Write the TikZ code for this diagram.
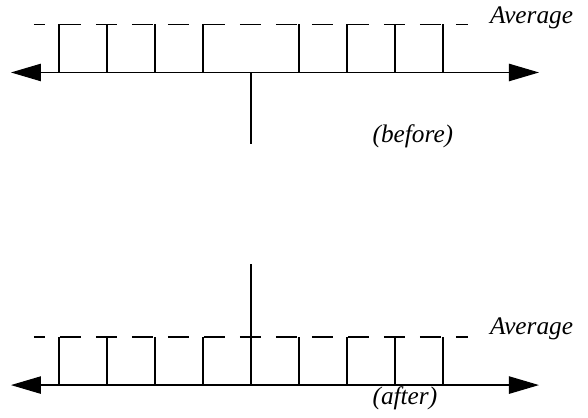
\documentclass[tikz,border=0pt]{standalone}
\usepackage{fontspec}
\setmainfont{Liberation Serif}
\usetikzlibrary{arrows.meta}

\tikzset{
  axis/.style={black, line width=0.55pt, {Triangle[length=0.5cm,width=0.29cm]}-{Triangle[length=0.5cm,width=0.29cm]}},
  avgline/.style={black, line width=0.55pt, dash pattern=on 0.35cm off 0.25cm, dash phase=0.167cm},
  bar/.style={black, line width=0.55pt},
  lbl/.style={font=\fontsize{12}{14}\selectfont\itshape, inner sep=0pt}
}

\begin{document}
\begin{tikzpicture}
    \useasboundingbox (-4.183cm,-5.758cm) rectangle (5.617cm,1.208cm);
    % before
    \draw[axis] (-4cm,0cm) -- (4.8cm,0cm);
    \draw[avgline] (-3.62cm,0.8cm) -- (3.62cm,0.8cm);
    \foreach \x in {-3.2,-2.4,-1.6,-0.8,0.8,1.6,2.4,3.2}
      \draw[bar] (\x cm,0cm) -- (\x cm,0.8cm);
    \draw[bar] (0cm,0cm) -- (0cm,-1.2cm);
    \node[lbl, anchor=base west] (avgbefore) at (3.98cm,0.82cm) {Average};
    \node[lbl, anchor=base west] (before) at (2.02cm,-1.175cm) {(before)};
    % after
    \draw[axis] (-4cm,-5.21cm) -- (4.8cm,-5.21cm);
    \draw[avgline] (-3.62cm,-4.41cm) -- (3.62cm,-4.41cm);
    \foreach \x in {-3.2,-2.4,-1.6,-0.8,0.8,1.6,2.4,3.2}
      \draw[bar] (\x cm,-5.21cm) -- (\x cm,-4.41cm);
    \draw[bar] (0cm,-5.21cm) -- (0cm,-3.19cm);
    \node[lbl, anchor=base west] (avgafter) at (3.98cm,-4.375cm) {Average};
    \node[lbl, anchor=base west] (after) at (2.02cm,-5.54cm) {(after)};
\end{tikzpicture}
\end{document}
